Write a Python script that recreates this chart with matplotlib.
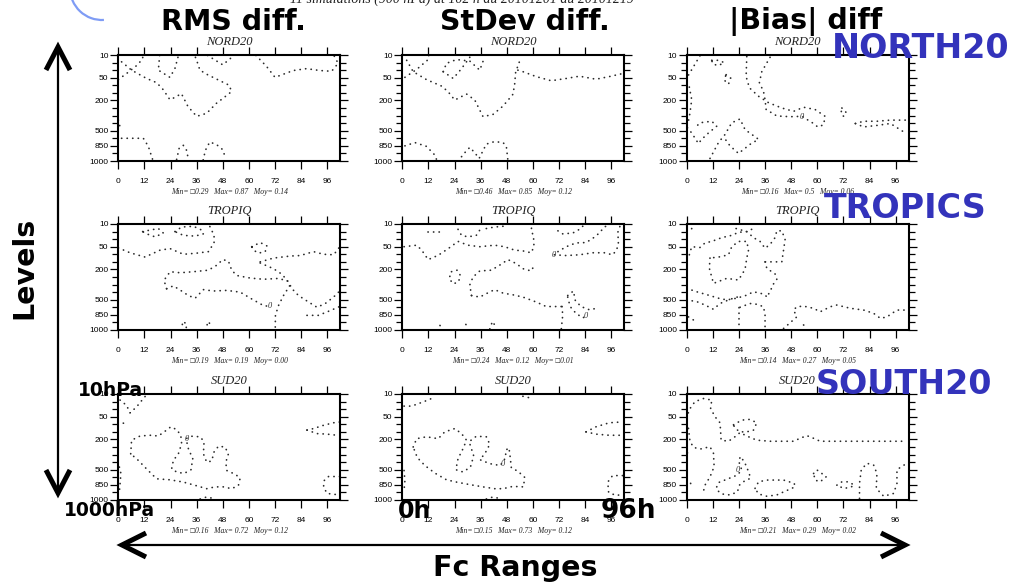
import numpy as np
import matplotlib
matplotlib.use("Agg")
import matplotlib.pyplot as plt
from matplotlib.lines import Line2D
from matplotlib.patches import Arc

# ---------------- data ----------------
levels = [10, 20, 30, 50, 70, 100, 200, 250, 300, 400, 500, 700, 850, 925, 1000]
level_labels = [10, 50, 200, 500, 850, 1000]
hour_ticks = [0, 12, 24, 36, 48, 60, 72, 84, 96]
regions = ["NORD20", "TROPIQ", "SUD20"]
region_tags = ["NORTH20", "TROPICS", "SOUTH20"]
scores = ["RMS diff.", "StDev diff.", "|Bias| diff"]

stats = [
    ["Min= \u25a10.29   Max= 0.87   Moy= 0.14", "Min= \u25a10.46   Max= 0.85   Moy= 0.12", "Min= \u25a10.16   Max= 0.5   Moy= 0.06"],
    ["Min= \u25a10.19   Max= 0.19   Moy= 0.00", "Min= \u25a10.24   Max= 0.12   Moy= \u25a10.01", "Min= \u25a10.14   Max= 0.27   Moy= 0.05"],
    ["Min= \u25a10.16   Max= 0.72   Moy= 0.12", "Min= \u25a10.15   Max= 0.73   Moy= 0.12", "Min= \u25a10.21   Max= 0.29   Moy= 0.02"],
]

# zero-contours: (forecast hours, pressure hPa)
NORD_RMS = [
    ([0, 4, 8, 11, 11.5], [55, 38, 25, 16, 10]),
    ([1.5, 6.1, 13, 17.6, 20.7, 23.7, 26, 29, 32, 36, 40.6, 45, 50, 52, 51, 46.7, 41, 37.5, 36, 35],
     [19, 30, 52, 63, 88, 190, 160, 110, 240, 310, 285, 220, 130, 95, 70, 58, 42, 30, 17, 10]),
    ([19, 18.4, 23.7, 26, 27.6], [10.5, 30, 49, 28, 11]),
    ([41, 48, 53], [10.5, 23, 11]),
    ([63.2, 68.1, 72, 80.4, 86.5, 92.6, 98, 101, 99], [10.5, 25, 49, 31, 28, 31, 33, 21, 10.3]),
    ([0, 0.8], [360, 450]),
    ([1.5, 11.5, 13.8, 15.3, 16], [700, 700, 855, 955, 1000]),
    ([26.8, 28, 29.9, 31.4, 32], [985, 870, 840, 895, 963]),
    ([39, 40, 42, 45, 48, 49], [990, 895, 775, 820, 888, 955]),
]
NORD_STD = [
    ([2, 5, 11.1, 18, 21, 24.1, 29.5, 33.3, 37.1, 41.7, 46.3, 50.8, 51.6, 52.1, 53.6, 54.2],
     [17, 34, 55, 73, 95, 195, 115, 195, 315, 292, 237, 120, 69, 34, 21, 14]),
    ([1.2, 6.6, 11.9, 12.2], [49, 29, 16, 10]),
    ([18.8, 20.3, 24.9, 31, 35.6, 37.9], [34, 21, 16, 18, 30, 12]),
    ([18.8, 23.4, 27.2, 31], [34, 52, 28, 13]),
    ([53.1, 55.4, 61.5, 68.4, 75.3, 81.4, 89, 95.1, 102], [30, 34, 47, 58, 52, 46, 54, 47, 38]),
    ([1.2, 5.8, 11.1, 14.9, 16], [850, 785, 855, 940, 1000]),
    ([25.6, 28.7, 31, 33.3, 35.3, 36.8, 38.6, 42.4, 46.3, 47.8, 48.5],
     [1000, 918, 865, 918, 975, 910, 815, 765, 785, 855, 990]),
]
NORD_BIAS = [
    ([6.1, 2.8, 0.3], [11, 27, 48]),
    ([1.2, 2.3, 1.5, 0.6], [77, 190, 283, 405]),
    ([11.5, 14.6, 17.2, 14.6, 12, 11.5], [17, 17, 20, 24, 22, 17]),
    ([18.1, 20.2, 19.2, 17.2, 18.1], [42, 51, 67, 56, 42]),
    ([27.6, 27.3, 28.8, 33, 37.6, 43.7, 49.1, 53.7, 59, 63.6, 62.9, 59.8],
     [12, 47, 80, 145, 215, 250, 272, 245, 260, 310, 420, 460]),
    ([38.3, 34.5, 33.4, 35.3, 36, 36.5, 41.4, 47.5, 52.9, 58.3, 60.6],
     [13, 34, 63, 95, 190, 260, 305, 315, 310, 405, 460]),
    ([10.7, 14.6, 17.6, 20.7, 24.5, 26.8, 33, 29.1, 23.8, 19.9, 16.9],
     [975, 785, 600, 395, 345, 485, 720, 820, 925, 850, 660]),
    ([0.3, 2.3, 5.4, 6.9, 10, 13.8, 11.5, 6.1, 4.6], [460, 560, 805, 720, 560, 440, 375, 395, 440]),
    ([71.3, 73.3, 72.1, 70.9, 71.3], [250, 280, 310, 285, 250]),
    ([77.5, 81.3, 87.4, 93.6, 101.2], [405, 375, 375, 360, 360]),
    ([77.5, 81.3, 87.4, 93.6, 100.5], [405, 450, 430, 405, 560]),
]
TROP_RMS = [
    ([0, 5.4, 12.3, 19.2, 23.8, 29.9, 36, 41.4, 44, 44, 42.2, 41.4], [53, 66, 81, 59, 55, 70, 67, 63, 40, 25, 14, 10]),
    ([11.2, 14.6, 18.4, 20.7, 16.9, 13, 11.2], [20, 18, 16, 22, 27, 23, 20]),
    ([26, 29.1, 34.5, 38.3, 39.1, 35.3, 29.9, 26], [20, 14, 13, 18, 23, 26, 25, 20]),
    ([22.2, 21, 23.8, 28.4, 34.5, 41.4, 45.2, 48, 50.6, 52.1, 54.4, 60.6, 66.7, 72.9, 77.5, 78.7],
     [355, 272, 215, 222, 215, 205, 145, 91, 97, 205, 240, 257, 265, 260, 272, 312]),
    ([22.2, 25.3, 29.1, 32.2, 35.3, 39.1, 43.7, 49.8, 56, 61.3, 66.7, 69.8],
     [355, 317, 385, 445, 480, 367, 385, 377, 400, 490, 655, 680]),
    ([65.2, 71.3, 75.2, 78.2, 79.8, 82.8, 87.4, 91.3, 95.1, 98.9, 101.2],
     [115, 190, 232, 283, 355, 445, 560, 700, 600, 465, 400]),
    ([78.7, 75.9, 73.6, 72.2, 72.1], [317, 445, 655, 855, 1000]),
    ([86.7, 92, 97.4, 101.7], [855, 855, 765, 680]),
    ([65.2, 71.3, 79, 83.6, 89.7, 94.3, 98.9, 101.2, 102], [100, 85, 77, 75, 63, 70, 72, 55, 40]),
    ([61.3, 65.2, 68.3, 67.5, 64.4, 62.1, 61.3], [50, 39, 48, 63, 67, 59, 50]),
    ([29.1, 29.6, 31.4, 31.1], [1000, 915, 940, 1000]),
    ([39.9, 41.4, 42.9], [1000, 915, 970]),
]
TROP_STD = [
    ([0.8, 6.6, 8.9, 11.9, 16.5, 21.1, 25.6, 30.2, 35.6, 42.4, 47, 51.6, 55.4, 59.2, 60.5, 60.3, 59.2, 60],
     [50, 46, 59, 91, 74, 55, 36, 46, 50, 46, 50, 59, 61, 66, 50, 27, 17, 10]),
    ([11.9, 17.3], [21, 21]),
    ([25.6, 27.2, 30.2, 34, 35.6, 34.8], [17, 25, 27, 25, 18, 13]),
    ([38.6, 42.4, 46.3], [16, 14, 13]),
    ([31.8, 31, 32.5, 35.6, 40.9, 45.5, 48.5, 52.4, 55.4, 59.2, 60.3],
     [445, 305, 250, 210, 205, 130, 91, 123, 190, 210, 165]),
    ([31.8, 35.6, 38.6, 42.4, 46.3, 50.8, 55.4, 61.5, 66.1, 70.7, 73.4],
     [445, 465, 420, 367, 413, 435, 465, 560, 680, 680, 680]),
    ([73.4, 73.7, 73], [680, 855, 1000]),
    ([76, 78.6, 79.5, 82.1, 86, 89.8], [445, 385, 520, 680, 750, 715]),
    ([76, 77.1, 79.8, 82.9, 85.2], [465, 680, 820, 880, 855]),
    ([71.5, 73.7, 78.3, 81.4, 82.9], [19, 23, 22, 17, 13]),
    ([69.9, 75.3, 81.4, 87.5, 92.8, 96.6, 98.5, 99.4, 98.9, 100], [72, 75, 72, 66, 66, 72, 59, 36, 22, 13]),
    ([71.5, 75.3, 79.8, 84.4, 87.5, 90.5, 92.8, 95.1], [63, 50, 40, 39, 29, 22, 14, 11]),
    ([22.6, 25.2, 26.7, 25.8, 23.4, 21.5, 22.6], [215, 205, 240, 283, 295, 260, 215]),
    ([17.3, 18.8], [955, 980]),
    ([29.2, 31], [945, 980]),
    ([40.2, 41.4, 43.2], [990, 915, 975]),
]
TROP_BIAS = [
    ([2.3, 1.8], [16, 22]),
    ([1.2, 2.3, 6.1, 8.4, 11.5, 16.1, 20.7, 23.8, 27.6, 31.4], [72, 50, 52, 40, 36, 28, 25, 21, 20, 15]),
    ([10.7, 10.4, 12.3, 18.4, 23.8, 26.8, 27.6, 28.4, 27.6, 23.8, 20.7, 19.2, 15.3, 10.7],
     [85, 185, 292, 259, 270, 200, 85, 59, 36, 36, 50, 72, 80, 85]),
    ([22.7, 27.6, 30.7, 33.7, 36, 38.3, 40.6, 41.4, 43.7, 45.2, 44.5, 43.7, 39.9, 36],
     [16, 20, 28, 36, 54, 44, 28, 19, 19, 31, 59, 100, 100, 100]),
    ([36, 36.8, 40.6, 41.4, 39.6, 38.3, 36.8], [100, 185, 230, 265, 303, 395, 460]),
    ([0, 4.6, 10, 14.6, 18.4, 23, 27.6, 30.7, 35.3, 36.8], [350, 395, 440, 480, 505, 480, 440, 395, 425, 460]),
    ([0, 4.6, 8.4, 12.3, 15.3, 19.9, 23.8], [505, 550, 640, 740, 600, 495, 460]),
    ([24.2, 24.2], [1000, 700]),
    ([24.5, 29.1, 32.2, 35.3, 36, 36], [700, 600, 620, 685, 853, 1000]),
    ([44.5, 47.5, 50.6, 49.1, 50.6, 53.7, 58.3, 61.3, 66, 69, 75.2, 81.3, 85.9, 89, 92, 96.6, 102],
     [985, 928, 870, 755, 685, 670, 720, 790, 685, 640, 720, 755, 820, 885, 870, 755, 755]),
    ([53.7, 55.5], [950, 985]),
    ([0.8, 3.8, 4.9], [870, 910, 928]),
]
SUD_RMS = [
    ([0.8, 3.8, 5.4, 8.4, 11.5, 13.3], [18, 25, 40, 27, 16, 10]),
    ([2.3, 4.6], [67, 72]),
    ([5.7, 6.1, 10, 14.6, 18.4, 22.2, 24.1, 26.8, 28.7, 29.1, 27.6, 25.3, 24.5, 26.8, 30.2,
      33.4, 34.2, 32.2, 31.1, 33.7, 37.6, 39.4, 39.1, 40.6, 42.9, 44, 46, 49, 50.6, 49.4,
      49.8, 53.7, 56, 55.2, 52.1, 48.3, 44.5, 40.6, 35.3, 29.9, 23.8, 17.6, 13, 9.2, 5.7],
     [295, 205, 155, 145, 155, 93, 80, 91, 145, 228, 295, 377, 490, 560, 600,
      500, 355, 261, 190, 158, 165, 215, 295, 400, 385, 283, 245, 250, 295, 400,
      520, 620, 715, 855, 888, 870, 870, 888, 855, 795, 750, 730, 490, 377, 295]),
    ([37.6, 40.6, 43.7], [990, 970, 985]),
    ([0.5, 1.2, 0.8, 0.5], [465, 600, 835, 915]),
    ([86.7, 89.7, 94.3, 98.9, 101.7], [93, 87, 74, 66, 64]),
    ([86.7, 91.3, 95.9, 100.5], [93, 123, 130, 145]),
    ([101.7, 96.6, 94.6, 94.3, 95.9, 99.7], [680, 680, 765, 870, 935, 945]),
]
SUD_STD = [
    ([0.8, 4.3, 8.1, 12.7, 15], [26, 26, 22, 17, 13]),
    ([55.4, 60], [13, 16]),
    ([5, 6.6, 11.1, 16.5, 19.5, 24.1, 27.2, 29.5, 27.9, 25.6, 24.6, 27.9, 31.3, 32.8, 30.7,
      34, 38.6, 40.2, 37.9, 35.6, 40.2, 45, 47.5, 47.5, 49, 49.6, 50.1, 53.1, 56.2, 55.7,
      50.8, 46.3, 42.4, 37.1, 31, 24.9, 20.3, 15, 10.4, 6.9, 5],
     [250, 190, 165, 190, 100, 87, 123, 205, 261, 355, 500, 560, 465, 317, 215,
      158, 165, 232, 295, 367, 420, 445, 340, 272, 255, 340, 475, 540, 700, 870,
      865, 888, 888, 870, 845, 795, 750, 590, 445, 340, 250]),
    ([38.6, 41.7, 44.7], [990, 970, 985]),
    ([0.8, 1.2, 0.8], [520, 765, 905]),
    ([84.4, 89, 95.1, 100.5], [100, 80, 66, 64]),
    ([84.4, 89, 95.1, 100.5], [100, 130, 145, 145]),
    ([101.2, 96.6, 94.4, 94.8, 98.2, 101.2], [655, 655, 795, 925, 955, 945]),
]
SUD_BIAS = [
    ([0, 1.2, 3.8, 7.7, 11.5, 11, 13, 15.3, 15.6, 15.8, 19.2, 22.2, 24.5, 27.6, 32.2, 38.3,
      44.5, 49.1, 52.1, 55.2, 58.3, 61.3, 69, 78.2, 90.5, 101.2],
     [54, 31, 20, 16, 18, 29, 50, 66, 100, 205, 212, 164, 110, 155, 205, 212,
      212, 212, 185, 150, 185, 212, 212, 212, 212, 212]),
    ([21.5, 25.3, 29.1, 32.2, 30.7, 27.6, 24.5, 22.2, 21.5], [72, 59, 57, 66, 93, 100, 100, 86, 72]),
    ([0.8, 1.5, 3.1, 6.1, 10.7, 12.3, 12.6, 10.7, 8.4, 7.4], [86, 212, 252, 264, 248, 292, 460, 690, 853, 940]),
    ([0.3, 1.2], [288, 310]),
    ([1.8, 2.3], [820, 885]),
    ([13.8, 14.6, 18.4, 23.3, 25.3, 23.8, 24.8, 26.8, 28.4, 29.4, 26.8, 24.2, 23.3, 19.9, 16.1, 13.8, 13.8],
     [870, 805, 740, 640, 505, 380, 325, 415, 550, 720, 765, 853, 920, 950, 940, 900, 870]),
    ([31.4, 33, 36.8, 44.5, 49.4, 49.8, 44.5, 41.4, 36.8, 33, 31.4],
     [885, 790, 755, 755, 820, 870, 920, 950, 963, 940, 885]),
    ([58.3, 59.8, 62.1, 64.1, 61.3, 59, 58.3], [600, 505, 600, 685, 790, 755, 600]),
    ([69, 71.3, 74.4, 77, 75.2, 72.1, 69], [853, 790, 790, 853, 875, 885, 853]),
    ([79.4, 79.4, 80.2, 82.8, 85.9, 87.4, 87.1, 90.5, 95.1, 96.6, 96.6, 99.7, 102],
     [985, 820, 505, 415, 440, 600, 885, 963, 935, 820, 500, 440, 415]),
]
contours = [[NORD_RMS, NORD_STD, NORD_BIAS],
            [TROP_RMS, TROP_STD, TROP_BIAS],
            [SUD_RMS, SUD_STD, SUD_BIAS]]

# contour labels (hour, hPa, text)
clabels = [
    [[], [], [(53, 320, "0")]],
    [[(69.8, 660, "0")], [(69.6, 72, "0"), (84.4, 860, "0")], []],
    [[(31.4, 190, "0")], [(46.3, 430, "0")], [(23.3, 508, "0")]],
]

# ---------------- layout ----------------
W, H = 1013, 586
fig = plt.figure(figsize=(W / 100, H / 100), dpi=100)
fig.patch.set_facecolor("white")


def fx(x):
    return x / W


def fy(y):
    return 1 - y / H


lev_idx = np.arange(len(levels), dtype=float)


def fwd(p):
    return np.interp(p, levels, lev_idx)


def inv(i):
    return np.interp(i, lev_idx, levels)


col_left = [118.3, 402.3, 686.7]
col_w = 222.0
row_top = [55.0, 224.0, 394.0]
row_h = 106.0

tick_font = dict(family="Liberation Sans", size=6)
serif = ["Liberation Serif", "DejaVu Serif"]

for r in range(3):
    for c in range(3):
        ax = fig.add_axes([fx(col_left[c]), fy(row_top[r] + row_h), col_w / W, row_h / H])
        ax.set_yscale("function", functions=(fwd, inv))
        ax.set_xlim(0, 102)
        ax.set_ylim(1000, 10)
        for hh, pp in contours[r][c]:
            ax.plot(hh, pp, color="#2a2a2a", lw=1.25, linestyle=(0, (0.1, 3.1)),
                    dash_capstyle="round", clip_on=True)
        for hh, pp, t in clabels[r][c]:
            ax.text(hh, pp, t, fontsize=6, family=serif, fontstyle="italic",
                    ha="center", va="center", color="#333333")
        ax.set_xticks(hour_ticks)
        ax.set_xticklabels([str(v) for v in hour_ticks], fontdict=tick_font)
        ax.set_yticks(level_labels)
        ax.set_yticklabels([str(v) for v in level_labels], fontdict=tick_font)
        ax.set_yticks(levels, minor=True)
        ax.yaxis.set_minor_formatter(plt.NullFormatter())
        ax.tick_params(axis="x", which="major", direction="out", top=True, bottom=True,
                       length=5.5, width=0.9, pad=7, colors="black")
        ax.tick_params(axis="y", which="major", direction="out", left=True, right=True,
                       length=5.5, width=0.9, pad=1.5)
        ax.tick_params(axis="y", which="minor", direction="out", left=True, right=True,
                       length=4.5, width=0.9)
        for s in ax.spines.values():
            s.set_linewidth(1.5)
        ax.text(0.5, 1 + 10 / row_h, regions[r], transform=ax.transAxes, ha="center",
                va="baseline", fontsize=9, family=serif, fontstyle="italic", color="#222222")
        ax.text(0.5, -31 / row_h, stats[r][c], transform=ax.transAxes, ha="center",
                va="center", fontsize=5.5, family=serif, fontstyle="italic", color="#222222")

# partly hidden header line at the very top (cut off by the page edge, as in the source slide)
fig.text(fx(462), fy(-1), "11 simulations (900 hPa) at 102 h du 20101201 au 20101219",
         ha="center", va="center", fontsize=10, family=serif, fontstyle="italic", color="#222222")

# blue arc (logo fragment)
arc = Arc((fx(102), fy(-12)), 2 * 32 / W, 2 * 32 / H, theta1=180, theta2=272,
          transform=fig.transFigure, color="#7f9cf5", lw=1.6)
fig.add_artist(arc)

# big overlay titles
bold = dict(family="DejaVu Sans", weight="bold")
fig.text(fx(233), fy(22), scores[0], ha="center", va="center", fontsize=20.5, color="black", **bold)
fig.text(fx(525), fy(22), scores[1], ha="center", va="center", fontsize=20.5, color="black", **bold)
fig.text(fx(806), fy(22), scores[2], ha="center", va="center", fontsize=20.5, color="black", **bold)

blue = "#3333bb"
fig.text(fx(921), fy(48), region_tags[0], ha="center", va="center", fontsize=24, color=blue, **bold)
fig.text(fx(905), fy(208), region_tags[1], ha="center", va="center", fontsize=24, color=blue, **bold)
fig.text(fx(904), fy(384), region_tags[2], ha="center", va="center", fontsize=24, color=blue, **bold)

fig.text(fx(24), fy(268), "Levels", rotation=90, ha="center", va="center", fontsize=20.5,
         color="black", **bold)
fig.text(fx(110), fy(390), "10hPa", ha="center", va="center", fontsize=13.5, color="black", **bold)
fig.text(fx(109), fy(511), "1000hPa", ha="center", va="center", fontsize=13.5, color="black", **bold)
fig.text(fx(415), fy(511), "0h", ha="center", va="center", fontsize=17, color="black", **bold)
fig.text(fx(628), fy(511), "96h", ha="center", va="center", fontsize=19, color="black", **bold)
fig.text(fx(515), fy(568), "Fc Ranges", ha="center", va="center", fontsize=20.5, color="black", **bold)


# arrows
def fline(xs, ys, lw):
    fig.add_artist(Line2D([fx(x) for x in xs], [fy(y) for y in ys], transform=fig.transFigure,
                          color="black", lw=lw, solid_joinstyle="miter", solid_capstyle="butt"))


fline([58, 58], [48, 492], 1.6)
fline([46, 58, 70], [70, 47, 70], 3.6)
fline([46, 58, 70], [470, 493, 470], 3.6)
fline([123, 904], [545, 545], 1.6)
fline([146, 122, 146], [533, 545, 557], 3.6)
fline([881, 905, 881], [533, 545, 557], 3.6)

fig.savefig("out.png", dpi=100, facecolor="white")
